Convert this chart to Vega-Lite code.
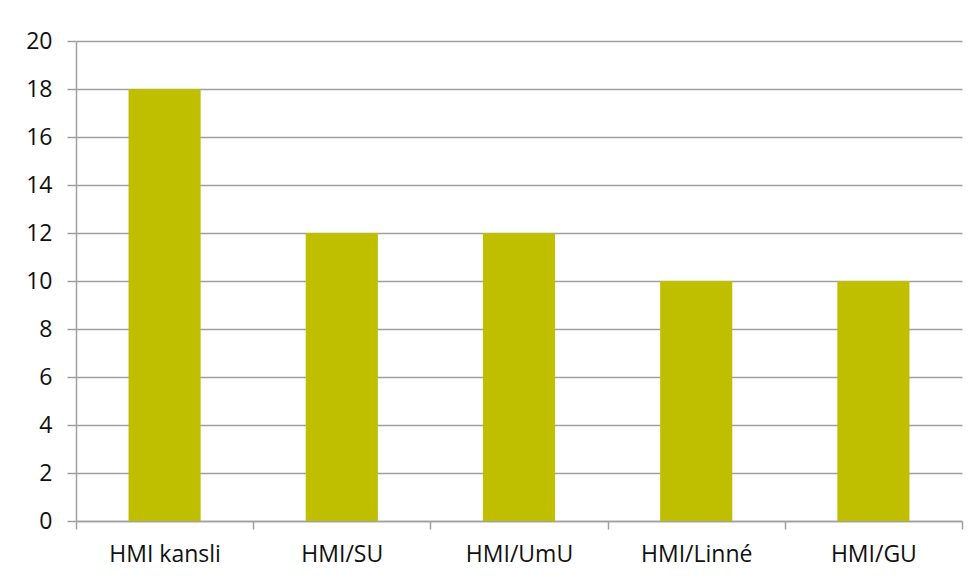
{
  "$schema": "https://vega.github.io/schema/vega-lite/v6.json",
  "width": 886,
  "height": 480,
  "autosize": {"type": "none"},
  "padding": {"left": 76, "top": 41, "right": 15, "bottom": 60},
  "background": "white",
  "data": {
    "values": [
      {"unit": "HMI kansli", "value": 18},
      {"unit": "HMI/SU", "value": 12},
      {"unit": "HMI/UmU", "value": 12},
      {"unit": "HMI/Linné", "value": 10},
      {"unit": "HMI/GU", "value": 10}
    ]
  },
  "mark": {"type": "bar", "color": "#BFBF00", "width": {"band": 0.407}},
  "encoding": {
    "x": {
      "field": "unit",
      "type": "nominal",
      "sort": null,
      "scale": {"paddingInner": 0, "paddingOuter": 0},
      "axis": {
        "title": null,
        "labelAngle": 0,
        "tickBand": "extent",
        "tickSize": 8,
        "tickColor": "#A0A0A0",
        "domainColor": "#A0A0A0",
        "domainWidth": 1.5,
        "tickWidth": 1.5,
        "labelPadding": 14,
        "labelFont": "Open Sans",
        "labelFontSize": 23,
        "labelColor": "#111111",
        "grid": false
      }
    },
    "y": {
      "field": "value",
      "type": "quantitative",
      "scale": {"domain": [0, 20]},
      "axis": {
        "title": null,
        "values": [0, 2, 4, 6, 8, 10, 12, 14, 16, 18, 20],
        "tickSize": 9,
        "tickColor": "#A0A0A0",
        "tickWidth": 1.5,
        "domainColor": "#A0A0A0",
        "domainWidth": 1.5,
        "gridColor": "#A0A0A0",
        "gridWidth": 1.5,
        "labelPadding": 15,
        "labelFont": "Open Sans",
        "labelFontSize": 23,
        "labelColor": "#111111"
      }
    }
  },
  "config": {"view": {"stroke": null}}
}
